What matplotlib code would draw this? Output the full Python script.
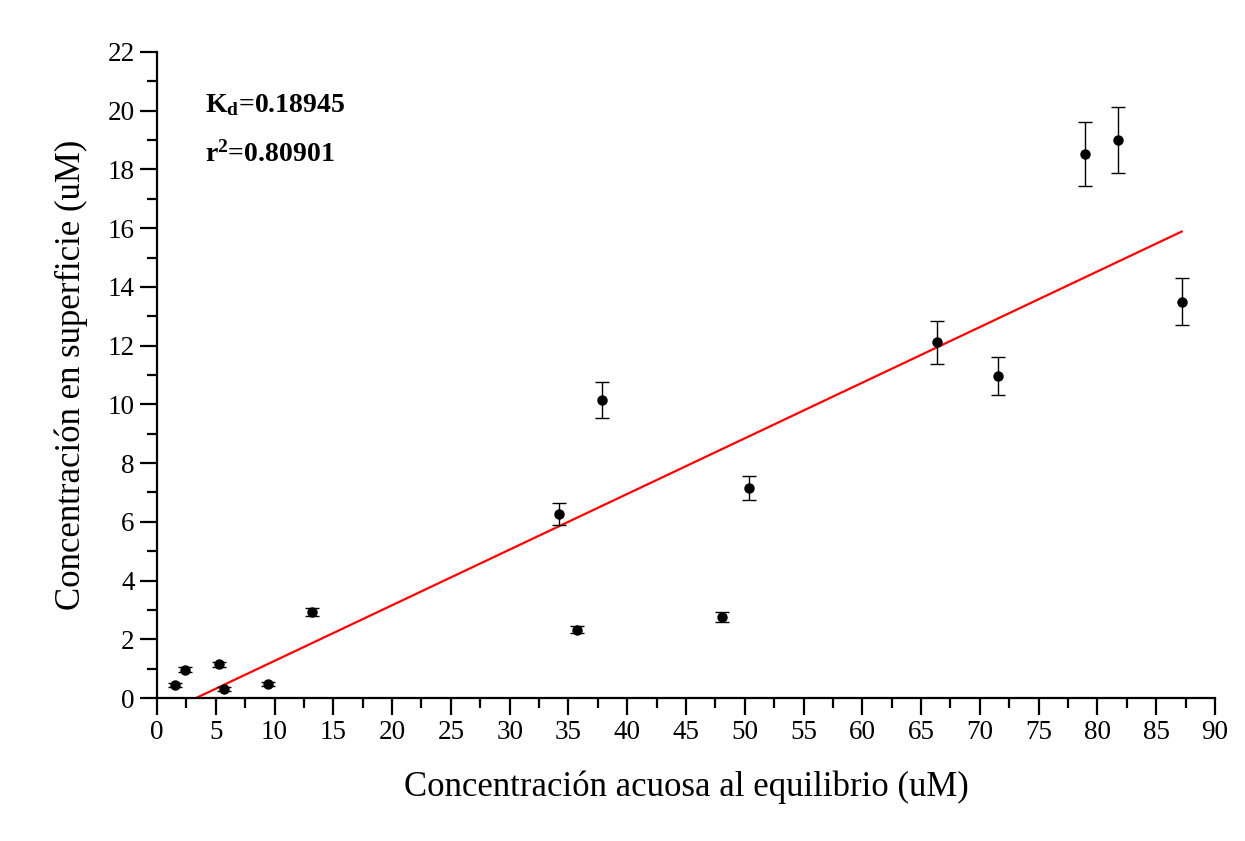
import numpy as np
import matplotlib
matplotlib.use("Agg")
import matplotlib.pyplot as plt
from matplotlib.ticker import MultipleLocator

plt.rcParams['font.family'] = ['Liberation Serif', 'DejaVu Serif']
plt.rcParams['mathtext.fontset'] = 'custom'
plt.rcParams['mathtext.rm'] = 'Liberation Serif'
plt.rcParams['mathtext.bf'] = 'Liberation Serif:bold'

# concentración acuosa al equilibrio (uM) y en superficie (uM)
conc_acuosa = [1.53, 2.38, 5.27, 5.70, 9.44, 13.2, 34.2, 35.7, 37.85, 48.1, 50.4,
               66.35, 71.5, 78.97, 81.75, 87.17]
conc_superficie = [0.44, 0.97, 1.15, 0.31, 0.48, 2.93, 6.27, 2.33, 10.15, 2.76, 7.15,
                   12.11, 10.97, 18.52, 18.99, 13.49]
error = [0.07, 0.08, 0.09, 0.07, 0.06, 0.15, 0.37, 0.13, 0.6, 0.16, 0.42,
         0.72, 0.65, 1.09, 1.12, 0.8]

# ajuste lineal
kd = 0.18945
r2 = 0.80901
intercepto = -0.629

fig = plt.figure(figsize=(12.45, 8.41), dpi=100)
ax = fig.add_axes([0.1261, 0.170, 0.8498, 0.7682])

ax.errorbar(conc_acuosa, conc_superficie, yerr=error, fmt='o', color='black',
            markersize=6.5, elinewidth=1.0, capsize=5, capthick=1.0, zorder=3)

x_fit = np.array([min(conc_acuosa), max(conc_acuosa)])
ax.plot(x_fit, kd * x_fit + intercepto, color='red', linewidth=1.6, zorder=2)

ax.set_xlim(0, 90)
ax.set_ylim(0, 22)
ax.xaxis.set_major_locator(MultipleLocator(5))
ax.xaxis.set_minor_locator(MultipleLocator(2.5))
ax.yaxis.set_major_locator(MultipleLocator(2))
ax.yaxis.set_minor_locator(MultipleLocator(1))

for s in ['top', 'right']:
    ax.spines[s].set_visible(False)
for s in ['left', 'bottom']:
    ax.spines[s].set_linewidth(1.6)

ax.tick_params(which='major', direction='out', length=12, width=1.6, labelsize=19.5, pad=4)
ax.tick_params(which='minor', direction='out', length=7, width=1.6)

ax.set_xlabel('Concentración acuosa al equilibrio (uM)', fontsize=25, labelpad=18)
ax.set_ylabel('Concentración en superficie (uM)', fontsize=25, labelpad=14)

ax.text(0.045, 0.918, r'$\mathbf{K_d}$' + '=0.18945', transform=ax.transAxes,
        fontsize=20, fontweight='bold', va='center')
ax.text(0.045, 0.842, r'$\mathbf{r^2}$' + '=0.80901', transform=ax.transAxes,
        fontsize=20, fontweight='bold', va='center')

fig.savefig('out.png', dpi=100, facecolor='white')
